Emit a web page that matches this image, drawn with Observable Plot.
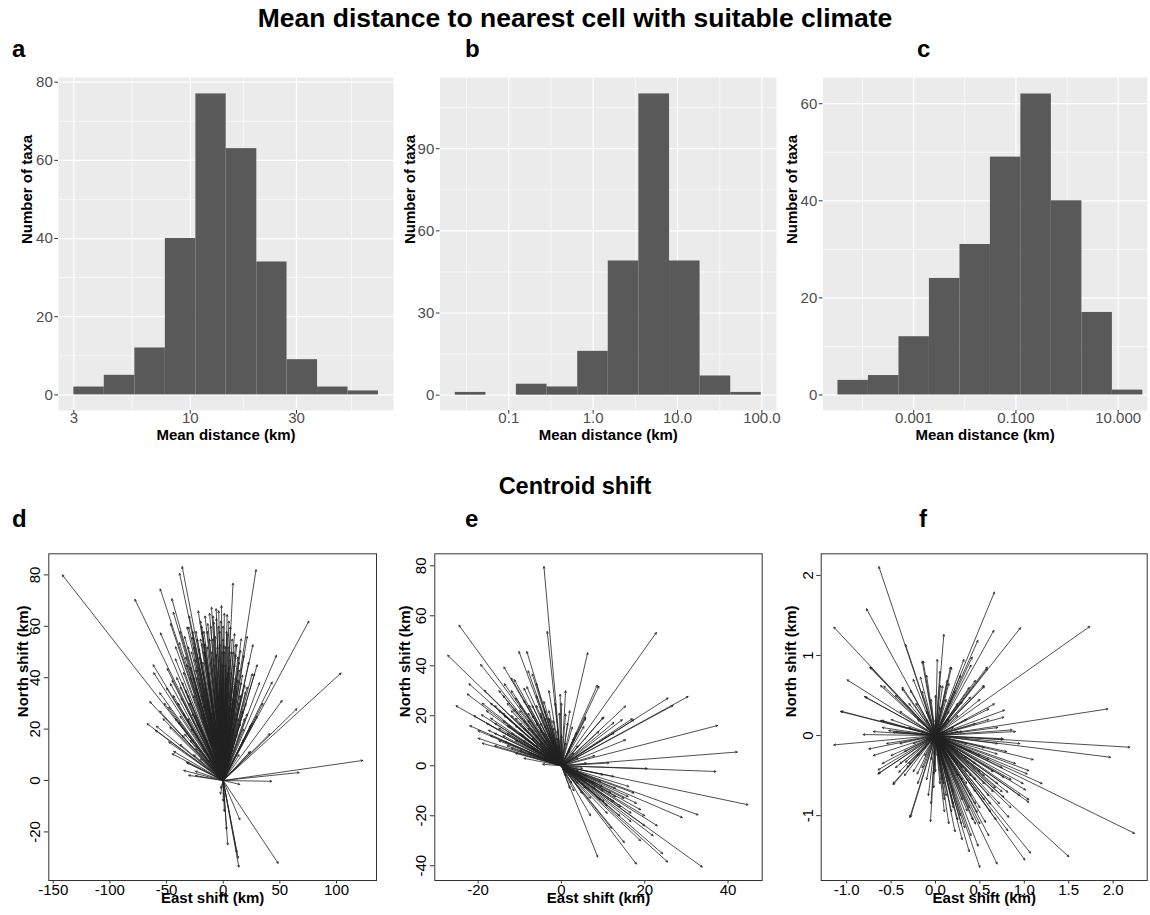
<!DOCTYPE html>
<html><head><meta charset="utf-8">
<script src="https://cdn.jsdelivr.net/npm/d3@7"></script>
<script src="https://cdn.jsdelivr.net/npm/@observablehq/plot@0.6"></script>
<style>
body{margin:0;background:#fff;font-family:"Liberation Sans",Arial,sans-serif;overflow:hidden}
#root{position:relative;width:1150px;height:915px;overflow:hidden;background:#fff}
.lbl{position:absolute;font-weight:bold;line-height:1;color:#000;white-space:nowrap}
</style></head><body><div id="root"></div>
<script>
// ---------- Histogram data (bin edges in km, counts) ----------
const aEdges = [3.00, 4.11, 5.64, 7.73, 10.6, 14.5, 19.9, 27.2, 37.3, 51.1, 70.0];
const aCounts = [2, 5, 12, 40, 77, 63, 34, 9, 2, 1];
const aXTicks = [3, 10, 30];
const aXLabels = ["3", "10", "30"];
const aXMinor = [5.48, 17.3, 53];
const aYTicks = [0, 20, 40, 60, 80];
const aYMinor = [10, 30, 50, 70];

const bEdges = [0.0232, 0.0536, 0.123, 0.284, 0.656, 1.51, 3.48, 8.04, 18.5, 42.7, 98.2];
const bCounts = [1, 0, 4, 3, 16, 49, 110, 49, 7, 1];
const bXTicks = [0.1, 1, 10, 100];
const bXLabels = ["0.1", "1.0", "10.0", "100.0"];
const bXMinor = [0.0316, 0.316, 3.16, 31.6];
const bYTicks = [0, 30, 60, 90];
const bYMinor = [15, 45, 75, 105];

const cEdges = [3.30e-5, 1.30e-4, 5.15e-4, 2.03e-3, 8.04e-3, 0.0317, 0.125, 0.494, 1.95, 7.71, 30.4];
const cCounts = [3, 4, 12, 24, 31, 49, 62, 40, 17, 1];
const cXTicks = [0.001, 0.1, 10];
const cXLabels = ["0.001", "0.100", "10.000"];
const cXMinor = [0.0001, 0.01, 1];
const cYTicks = [0, 20, 40, 60];
const cYMinor = [10, 30, 50];

// ---------- Centroid shift data: [east, north] arrow tips (km) ----------
const dShift = [
[-142,80],[-78,70.5],[-36.2,83.2],[-38.5,80.6],[-55.6,74.5],[-45.3,70.7],[-44,65.4],[8.7,76.7],[29,82],[75.6,62],
[104,41.8],[123.2,7.8],[67,3.1],[42.8,-0.3],[14.7,-1.5],[52,31.1],[65,27.9],[47,48.7],[43.2,38.3],[41.2,18.2],
[23.5,11],[27.6,41.5],[26.2,52.8],[21.2,56],[15.9,55.1],[-10.3,67.4],[-6.2,66.8],[-1.5,68],[3.5,64.5],[-13.6,61],
[-8.3,61.6],[6.4,59.7],[-46.5,61],[-31.8,59.7],[-18.5,57.7],[-55.3,57.4],[-61.8,45],[-61.3,41.9],[-64.8,30.7],[-67.1,22.1],
[-58.9,21.1],[-59.8,19.5],[-56,27],[-48,28.5],[-46.5,37.6],[-43.6,11.3],[-31.8,6.9],[-30.4,2],[-24.4,3.6],[-32.4,7.1],
[-2.4,-5.3],[2.9,-19],[14.7,-15.3],[13.2,-30.2],[13.8,-33.7],[48.5,-32.2],[24.1,11.3],[19.7,34.4],[21.2,25.9],[25.6,22.3],
[-30.4,59.7],[-27.4,55.8],[-21.5,51.2],[-38.6,53.6],[-42.1,47.3],[-18.8,53.2],[0.5,52.5],[10.9,52.8],[15.3,50.6],[18.2,48.6],
[22.6,46],[10,57.1],[25.6,41.5],[21.2,36.3],[15,33],[18.8,24],[24.1,21.4],[-49.4,43.5],[-45,38.9],[-37.8,36.3],
[-56,34.1],[-53,24],[-47.1,20.7],[-39.2,22.7],[-36.2,17.5],[-28.9,15.6],[-24.4,12.3],[-20,8.4],[-45,10.4],[-34.8,3.9],
[-24.4,1.9],[-28,50],[-25,47],[-22,44],[-20,55],[-17,50],[-15,46],[-13,42],[-12,55],[-10,50],
[-8,45],[-7,56],[-5,52],[-4,47],[-3,58],[-2,43],[0,55],[1,50],[2,45],[3,40],
[4,57],[5,52],[6,47],[7,42],[8,38],[9,50],[10,45],[11,40],[12,35],[13,48],
[14,43],[16,38],[-26,40],[-24,36],[-21,38],[-19,33],[-16,36],[-14,31],[-11,34],[-9,29],
[-6,38],[-4,33],[-1,36],[1,30],[4,34],[6,28],[9,32],[11,26],[14,30],[17,27],
[-32,45],[-35,42],[-33,35],[-30,30],[-27,26],[-23,22],[-19,25],[-15,20],[-12,24],[-8,22],
[-5,18],[-2,24],[0,15],[3,20],[6,14],[9,20],[12,18],[15,22],[18,16],[-38,25],
[-34,18],[-28,20],[-40,30],[-20,62],[-16,64],[-11,60],[-6,63],[-2,62],[1,65],[-24,58],
[-9,55],[-1,45],[-14,52],[-18,46],[2,38],[-7,40],[-10,26],[-3,28],[5,25],[8,12],
[-6,10],[-12,8],[-4,6],[2,8],[-29,44],[-23,40],[-17,58],[-3,53],[7,50],[12,53],
[-27,58],[-23,55],[-19,60],[-14,58],[-9,64],[-4,60],[0,60],[3,58],[-31,52],[-26,52],
[-21,48],[-16,53],[-11,46],[-6,49],[-1,50],[2,52],[5,44],[8,55],[11,49],[14,46],
[-33,48],[-29,40],[-24,43],[-18,42],[-13,38],[-8,35],[-3,38],[0,40],[4,42],[7,35],
[10,37],[13,39],[17,41],[19,37],[-36,38],[-31,33],[-26,33],[-22,30],[-17,29],[-12,28],
[-7,30],[-2,32],[2,27],[7,30],[11,31],[16,33],[-41,40],[-37,32],[-35,26],[-31,24],
[-25,25],[-20,20],[-15,16],[-10,18],[-5,22],[0,25],[5,18],[8,24],[13,24],[20,30],
[-44,33],[-50,36],[-52,30],[-42,24],[-48,15],[-38,14],[-26,10],[-17,12],[-9,14],[4,14],
[14,10],[18,20],[-22,66],[-12,65],[-4,66],[5,62],[-30,64],[-34,56],[-38,58],[-42,52],
[30,45],[32,38],[35,30],[30,25],[-2,-3],[0,-8],[1,-12],[4,-25],[12,-28]
];

const eShift = [
[-4.2,79.7],[-3.4,53.7],[-24.6,56.2],[-27.3,44.2],[-25.3,24],[-22.6,28.7],[-22.2,32.8],[-19.4,40.5],[-18.5,30.2],[-17.5,14.2],
[-13.8,39.5],[-11.3,34.4],[-10.2,45.7],[-8.3,45.7],[-7,36.7],[-8.3,31.6],[-13.6,9.7],[-4.5,0.6],[-0.3,28.6],[6.3,45.2],
[22.8,53.3],[9,31.8],[8.6,32.2],[15.4,23.9],[17,18.8],[25.6,27.1],[26.8,24.1],[30.4,27.7],[37.5,16.1],[42.2,5.5],
[37.1,-2.3],[20.6,-1.1],[11.4,1.1],[44.8,-15.6],[32.8,-19.6],[29,-20.7],[16,-12.3],[16.7,-18.9],[16.7,-22.3],[15.1,-30.7],
[24.3,-35.2],[25.5,-38.5],[18,-39.3],[8.7,-36.5],[33.8,-40.5],[10,-3.6],[2.4,-6.9],[11,-15.9],[10.2,19.5],[5.8,19.5],
[9.4,-6.3],[13,-12.3],[10.2,-14.3],[-13.7,32.8],[-17,25],[-19.2,20.4],[-13.7,20],[-11.4,22.7],[-12.6,15.7],[-9.4,12.4],
[-7.8,24.1],[-4.2,25.7],[-5,21],[-2.8,18.4],[1,20.7],[2.6,15.5],[3.6,13.3],[5.8,19],[5.4,15.7],[10,19.3],
[9,13.7],[12.6,17.3],[14.6,18.4],[17.4,18.4],[12.6,13.1],[15.4,10.4],[12.6,-4.3],[16.2,-8.3],[17.4,-10.9],[7.8,-6.9],
[9.8,-8.3],[11.8,-10.9],[12.6,-14.3],[9.4,-13.6],[5.8,-8.9],[3.8,-5.6],[14.2,-16.3],[19,-17.6],[-15,22],[-14,18],
[-13,25],[-12,20],[-11,16],[-11,27],[-10,22],[-10,13],[-9,18],[-9,26],[-8,15],[-8,21],
[-7,11],[-7,24],[-6,17],[-6,8],[-5,14],[-5,20],[-4,10],[-4,16],[-3,7],[-3,13],
[-2,5],[-2,10],[-1,4],[-1,8],[-16,17],[-17,12],[-15,10],[-13,13],[-12,7],[-10,6],
[-8,5],[-6,4],[-14,28],[-12,30],[-9,31],[-6,28],[-4,22],[-3,19],[-2,15],[0,12],
[1,9],[2,6],[3,5],[4,8],[0,5],[-20,14],[-19,9],[-18,22],[-21,20],[-16,24],
[2,-3],[4,-2],[6,-4],[8,-9],[5,-11],[7,-13],[3,-10],[20,-24],[22,-28],[14,-20],
[-0.5,21],[1.5,17],[-1.5,25],[0.5,2],[6,1],[8,4],
[-14,12],[-13,16],[-12,22],[-11,19],[-10,24],[-9,15],[-9,10],[-8,18],[-7,14],[-7,20],
[-6,12],[-6,24],[-5,9],[-5,17],[-4,13],[-4,19],[-3,10],[-3,22],[-2,12],[-2,18],
[-1,14],[-1,11],[-15,15],[-16,13],[-17,19],[-14,21],[-12,13],[-11,10],[-10,17],[-8,10],
[-7,7],[-5,5],[-4,3],[-3,4],[-2,2],[-18,17],[-16,8],[-13,8],[-11,5],[-9,3],
[-20,11],[-22,16],[-19,25],[-15,30],[-12,35],[-8,38],[-6,33],[-3,30],[0,25],[1,30],
[2,22],[3,11],[4,3],[5,-1],[3,-2],[1,-4],[6,-6],[8,-7],[4,-7],[2,-9],
[10,-10],[13,-9],[15,-13],[11,-19],[18,-15],[20,-20],[23,-24],[19,-30],[7,-20],[12,-25]
];

const fShift = [
[-0.638,2.11],[-0.777,1.583],[-1.145,1.354],[0.664,1.792],[0.657,1.313],[0.957,1.346],[1.738,1.363],[0.094,1.263],[-0.338,1.138],[-0.139,0.929],
[-0.74,0.854],[-0.995,0.696],[-0.8,0.488],[-1.062,0.304],[-1.145,-0.117],[-0.815,0.0125],[-0.751,-0.167],[-0.619,0.625],[-0.375,0.604],[-0.646,-0.429],
[-0.638,-0.471],[-0.477,-0.613],[-0.289,-1.021],[-0.056,-1.075],[0.499,-1.646],[0.694,-1.604],[1.006,-1.554],[1.07,-1.467],[1.502,-1.513],[2.241,-1.221],
[2.188,-0.146],[1.971,-0.271],[1.941,0.333],[0.863,0.071],[0.77,0.229],[0.6,0.333],[1.051,-0.438],[1.014,-0.679],[1.051,-0.8],[0.815,-0.708],
[0.815,-1.188],[0.563,-1.083],[0.293,-1.104],[0.394,0.479],[0.544,0.625],[0.45,0.688],[0.413,0.979],[0.477,1.188],[0.582,0.854],[0.169,0.854],
[0.056,0.625],[-0.169,0.729],[-0.282,0.563],[0.758,-0.05],[0.694,-0.229],[0.77,-0.521],[0.619,-0.854],[0.469,-0.958],[0.199,-0.854],[0.094,-0.604],
[-0.019,-0.479],[-0.206,-0.479],[-0.319,-0.396],[-0.413,-0.458],[-0.526,0.0625],[-0.619,0.1875],[-0.477,0.042],[-0.15,0.929],[-0.732,0.854],[-0.788,0.479],
[-1.07,0.3],[-0.648,-0.48],[-0.477,-0.6],[-0.281,-1.02],[0.582,0.833],[0.552,0.613],[0.664,0.396],[0.777,0.317],[0.762,-0.04],[1.032,-0.479],
[1.051,-0.833],[0.987,-0.6],[0.825,-1.02],[0.769,-0.77],[0.676,-0.65],[0.45,-1.104],[0.357,-0.94],[0.131,0.688],[-0.375,0.583],[-0.582,0.615],
[-0.6,0.187],[-0.338,-0.333],[0.2,-0.3],[0.25,-0.5],[0.3,-0.4],[0.35,-0.6],[0.4,-0.5],[0.45,-0.7],[0.5,-0.45],[0.55,-0.6],
[0.3,-0.8],[0.2,-0.7],[0.15,-0.55],[0.1,-0.4],[0.38,-0.9],[0.28,-1.0],[0.6,-0.3],[0.65,-0.45],[0.7,-0.6],[0.5,-0.25],
[0.4,-0.2],[0.3,-0.15],[0.55,-0.15],[0.45,-0.35],[0.35,-0.28],[0.25,-0.2],[0.6,-0.75],[0.5,-0.9],[0.42,-1.05],[0.33,-1.15],
[0.2,-0.9],[0.12,-0.75],[0.05,-0.6],[0.0,-0.45],[-0.05,-0.3],[-0.1,-0.55],[-0.15,-0.4],[-0.2,-0.25],[-0.3,-0.35],[-0.35,-0.2],
[-0.4,-0.1],[-0.25,-0.1],[-0.45,0.05],[-0.3,0.1],[-0.2,0.2],[-0.1,0.3],[0.05,0.35],[0.15,0.3],[0.25,0.25],[0.35,0.2],
[0.45,0.15],[0.3,0.05],[0.2,0.1],[0.1,0.15],[-0.1,0.1],[0.8,-0.2],[0.7,-0.1],[0.9,-0.35],[0.75,-0.4],[0.85,-0.55],
[0.0,0.5],[0.08,0.62],[0.12,0.45],[0.22,0.55],[0.3,0.42],[-0.05,0.45],[-0.15,0.55],[-0.22,0.4],[0.18,0.85],[0.28,0.75],
[0.38,0.6],[0.32,0.95],[0.4,0.88],[0.25,-1.05],[0.1,-0.95],[-0.05,-0.85],[0.15,-1.1],[0.05,-0.35],[-0.4,-0.35],[-0.5,-0.25],
[-0.55,-0.1],[-0.6,0.1],
[0.1,-0.2],[0.15,-0.1],[0.2,-0.15],[0.05,-0.15],[-0.05,-0.1],[-0.1,-0.05],[-0.15,0.05],[-0.1,0.2],[0,0.2],[0.05,0.1],
[0.1,0.05],[0.15,0.2],[0.25,0.05],[0.35,-0.1],[0.25,-0.35],[0.3,-0.55],[0.4,-0.75],[0.35,-0.45],[0.45,-0.55],[0.55,-0.8],
[0.62,-0.95],[0.5,-1.1],[0.4,-1.25],[0.3,-1.3],[0.22,-1.2],[0.18,-0.95],[0.1,-0.8],[0.08,-0.55],[0.02,-0.25],[-0.02,-0.65],
[-0.08,-0.75],[-0.12,-0.25],[-0.25,-0.45],[-0.35,-0.5],[-0.45,-0.4],[-0.2,-0.6],[-0.6,-0.35],[-0.7,-0.25],[-0.7,0.05],[-0.5,0.2],
[-0.4,0.3],[-0.3,0.4],[-0.45,0.5],[-0.25,0.7],[-0.1,0.75],[0.05,0.8],[0.02,0.95],[0.15,0.65],[0.25,0.4],[0.5,0.45],
[0.6,0.2],[0.7,0.1],[0.9,0.05],[0.95,-0.1],[1.1,-0.3],[1.2,-0.6],[0.95,-0.75],[0.85,-0.9],[0.72,-0.85],[0.68,-1.05],
[0.6,-1.25],[0.48,-1.38],[0.38,-1.45],[0.55,-0.5],[0.65,-0.7],[0.75,-0.7],[0.45,-0.85]
];

const dXTicks = [-150, -100, -50, 0, 50, 100];
const dXLabels = ["-150", "-100", "-50", "0", "50", "100"];
const dYTicks = [-20, 0, 20, 40, 60, 80];
const dYLabels = ["-20", "0", "20", "40", "60", "80"];
const eXTicks = [-20, 0, 20, 40];
const eXLabels = ["-20", "0", "20", "40"];
const eYTicks = [-40, -20, 0, 20, 40, 60, 80];
const eYLabels = ["-40", "-20", "0", "20", "40", "60", "80"];
const fXTicks = [-1, -0.5, 0, 0.5, 1, 1.5, 2];
const fXLabels = ["-1.0", "-0.5", "0.0", "0.5", "1.0", "1.5", "2.0"];
const fYTicks = [-1, 0, 1, 2];
const fYLabels = ["-1", "0", "1", "2"];

// ---------- helpers ----------
const root = document.getElementById("root");
const FONT = "Liberation Sans, Arial, Helvetica, sans-serif";
function place(svg, left, top) {
  svg.style.position = "absolute";
  svg.style.left = left + "px";
  svg.style.top = top + "px";
  root.appendChild(svg);
}
function label(text, left, top, size, extra) {
  const d = document.createElement("div");
  d.className = "lbl";
  d.textContent = text;
  d.style.left = left + "px";
  d.style.top = top + "px";
  d.style.fontSize = size + "px";
  if (extra) Object.assign(d.style, extra);
  root.appendChild(d);
}

function histPanel(o) {
  const bins = o.counts.map((n, i) => ({lo: o.edges[i], hi: o.edges[i + 1], n}));
  const fmt = new Map(o.xTicks.map((t, i) => [t, o.xLabels[i]]));
  return Plot.plot({
    width: o.width, height: 395,
    marginLeft: o.ml, marginRight: o.mr, marginTop: 17, marginBottom: 45,
    style: {background: "transparent", fontFamily: FONT, overflow: "visible"},
    x: {type: "log", domain: o.xDomain},
    y: {domain: o.yDomain},
    marks: [
      Plot.frame({fill: "#EBEBEB", stroke: "none"}),
      Plot.gridX(o.xMinor, {stroke: "#fff", strokeOpacity: 1, strokeWidth: 0.6}),
      Plot.gridY(o.yMinor, {stroke: "#fff", strokeOpacity: 1, strokeWidth: 0.6}),
      Plot.gridX(o.xTicks, {stroke: "#fff", strokeOpacity: 1, strokeWidth: 1.2}),
      Plot.gridY(o.yTicks, {stroke: "#fff", strokeOpacity: 1, strokeWidth: 1.2}),
      Plot.rectY(bins, {x1: "lo", x2: "hi", y: "n", fill: "#595959"}),
      Plot.axisX(o.xTicks, {tickFormat: () => "", tickSize: 3.7, stroke: "#333", label: null}),
      Plot.text(o.xTicks, {x: d => d, text: d => fmt.get(d), frameAnchor: "bottom", dy: 12, fontSize: 15, fill: "#4D4D4D"}),
      Plot.axisY(o.yTicks, {tickFormat: d => String(d), tickSize: 3.7, tickPadding: 2, fontSize: 15, stroke: "#333", fill: "#4D4D4D", label: null}),
      Plot.text(["Mean distance (km)"], {text: d => d, frameAnchor: "bottom", dy: 29, fontWeight: "bold", fontSize: 15, fill: "#000"}),
      Plot.text(["Number of taxa"], {text: d => d, frameAnchor: "left", dx: o.ytdx, rotate: -90, fontWeight: "bold", fontSize: 15, fill: "#000"})
    ]
  });
}

function arrowPanel(o) {
  const xf = new Map(o.xTicks.map((t, i) => [t, o.xLabels[i]]));
  const yf = new Map(o.yTicks.map((t, i) => [t, o.yLabels[i]]));
  return Plot.plot({
    width: o.width, height: 375,
    marginLeft: o.ml, marginRight: o.mr, marginTop: 13.3, marginBottom: 35,
    style: {background: "transparent", fontFamily: FONT, overflow: "visible"},
    x: {domain: o.xDomain},
    y: {domain: o.yDomain},
    marks: [
      Plot.arrow(o.data, {x1: () => 0, y1: () => 0, x2: d => d[0], y2: d => d[1], stroke: "#222", strokeWidth: 0.8, headLength: 3.5, headAngle: 55}),
      Plot.frame({stroke: "#333", strokeWidth: 1}),
      Plot.axisX(o.xTicks, {tickFormat: d => xf.get(d), tickSize: 3.5, tickPadding: 0, fontSize: 15, stroke: "#333", fill: "#000", label: null}),
      Plot.axisY(o.yTicks, {tickFormat: d => yf.get(d), tickRotate: -90, tickSize: 4.5, tickPadding: 4, fontSize: 15, stroke: "#333", fill: "#000", label: null}),
      Plot.text(["East shift (km)"], {text: d => d, frameAnchor: "bottom", dy: 22, fontWeight: "bold", fontSize: 15, fill: "#000"}),
      Plot.text(["North shift (km)"], {text: d => d, frameAnchor: "left", dx: o.ytdx, rotate: -90, fontWeight: "bold", fontSize: 15, fill: "#000"})
    ]
  });
}

// ---------- titles ----------
label("Mean distance to nearest cell with suitable climate", 0, 4.5, 26.5, {width: "1150px", textAlign: "center"});
label("Centroid shift", 0, 475, 23.5, {width: "1150px", textAlign: "center"});
label("a", 12, 37, 24); label("b", 465, 37, 24); label("c", 917, 37, 24);
label("d", 12, 507, 24); label("e", 465, 507, 24); label("f", 919, 507, 24);

// ---------- histograms ----------
place(histPanel({width: 395, ml: 58, mr: 2, edges: aEdges, counts: aCounts,
  xDomain: [2.56, 81.8], yDomain: [-4, 81.2], xTicks: aXTicks, xLabels: aXLabels, xMinor: aXMinor,
  yTicks: aYTicks, yMinor: aYMinor, ytdx: -31}), 0, 60);
place(histPanel({width: 385, ml: 44.5, mr: 4, edges: bEdges, counts: bCounts,
  xDomain: [0.0153, 148.9], yDomain: [-5.6, 116], xTicks: bXTicks, xLabels: bXLabels, xMinor: bXMinor,
  yTicks: bYTicks, yMinor: bYMinor, ytdx: -29.5}), 395, 60);
place(histPanel({width: 370, ml: 42.5, mr: 3.3, edges: cEdges, counts: cCounts,
  xDomain: [1.68e-5, 37.0], yDomain: [-3.2, 65.4], xTicks: cXTicks, xLabels: cXLabels, xMinor: cXMinor,
  yTicks: cYTicks, yMinor: cYMinor, ytdx: -31}), 780, 60);

// ---------- centroid shift ----------
place(arrowPanel({width: 390, ml: 48.3, mr: 14, data: dShift, xDomain: [-153.9, 135.3], yDomain: [-38.9, 88.2],
  xTicks: dXTicks, xLabels: dXLabels, yTicks: dYTicks, yLabels: dYLabels, ytdx: -25.3}), 0, 540);
place(arrowPanel({width: 385, ml: 44.3, mr: 13.3, data: eShift, xDomain: [-30.4, 48.2], yDomain: [-45.9, 84.8],
  xTicks: eXTicks, xLabels: eXLabels, yTicks: eYTicks, yLabels: eYLabels, ytdx: -29.3}), 390, 540);
place(arrowPanel({width: 375, ml: 45.7, mr: 3.3, data: fShift, xDomain: [-1.287, 2.384], yDomain: [-1.81, 2.27],
  xTicks: fXTicks, xLabels: fXLabels, yTicks: fYTicks, yLabels: fYLabels, ytdx: -29.7}), 775, 540);
</script>
</body></html>
